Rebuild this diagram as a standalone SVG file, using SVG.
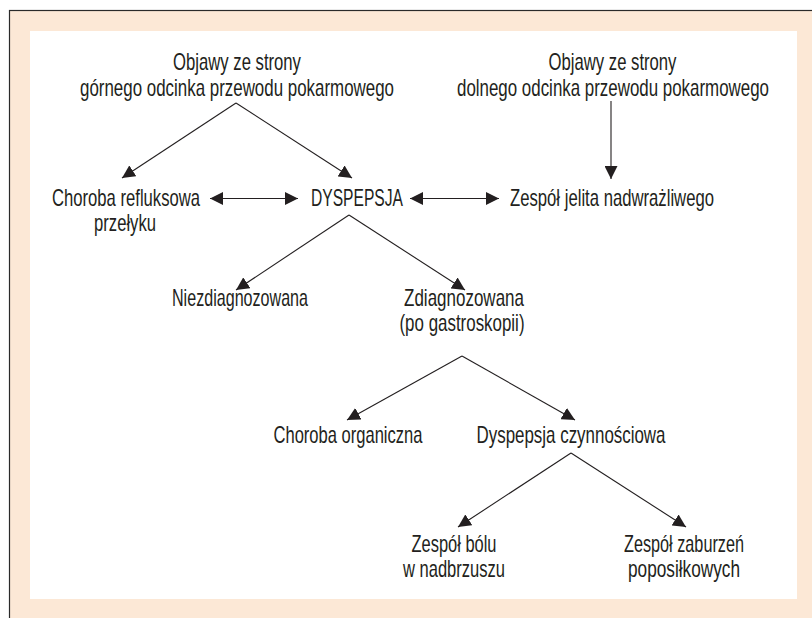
<svg xmlns="http://www.w3.org/2000/svg" width="812" height="618" viewBox="0 0 812 618">
<style>
text{font-family:"Liberation Sans",Arial,sans-serif;font-size:23px;fill:#231f20;text-anchor:middle}
.c line{stroke:#231f20;stroke-width:1.1;fill:none}
</style>
<defs>
<marker id="ah" viewBox="0 0 13 13" refX="13" refY="6.5" markerWidth="13" markerHeight="13" markerUnits="userSpaceOnUse" orient="auto-start-reverse">
<path d="M0,0 L13,6.5 L0,13 z" fill="#231f20"/>
</marker>
</defs>
<rect x="9.5" y="10.5" width="820" height="620" fill="#fce8d6" stroke="#2a2a2a" stroke-width="1.2"/>
<rect x="30" y="31" width="767" height="568" fill="#ffffff"/>
<g class="c" id="connectors">
<line x1="236" y1="103" x2="122" y2="178" marker-end="url(#ah)"/>
<line x1="236" y1="103" x2="352" y2="178" marker-end="url(#ah)"/>
<line x1="611" y1="101" x2="611" y2="179" marker-end="url(#ah)"/>
<line x1="210" y1="198.5" x2="298" y2="198.5" marker-start="url(#ah)" marker-end="url(#ah)"/>
<line x1="410" y1="198.5" x2="499" y2="198.5" marker-start="url(#ah)" marker-end="url(#ah)"/>
<line x1="349" y1="215" x2="236" y2="290" marker-end="url(#ah)"/>
<line x1="349" y1="215" x2="465" y2="290" marker-end="url(#ah)"/>
<line x1="462" y1="356" x2="347" y2="420" marker-end="url(#ah)"/>
<line x1="462" y1="356" x2="575" y2="420" marker-end="url(#ah)"/>
<line x1="571" y1="453" x2="458" y2="527" marker-end="url(#ah)"/>
<line x1="571" y1="453" x2="686" y2="527" marker-end="url(#ah)"/>
</g>
<g id="n-upper">
<text transform="translate(237 70) scale(0.78 1)" textLength="164" lengthAdjust="spacingAndGlyphs">Objawy ze strony</text>
<text transform="translate(237 96) scale(0.78 1)" textLength="402.6" lengthAdjust="spacingAndGlyphs">górnego odcinka przewodu pokarmowego</text>
</g>
<g id="n-lower">
<text transform="translate(612.5 70) scale(0.78 1)" textLength="164" lengthAdjust="spacingAndGlyphs">Objawy ze strony</text>
<text transform="translate(613 96) scale(0.78 1)" textLength="400" lengthAdjust="spacingAndGlyphs">dolnego odcinka przewodu pokarmowego</text>
</g>
<g id="n-gerd">
<text transform="translate(126 206) scale(0.78 1)" textLength="189.7" lengthAdjust="spacingAndGlyphs">Choroba refluksowa</text>
<text transform="translate(125 231) scale(0.78 1)" textLength="79.5" lengthAdjust="spacingAndGlyphs">przełyku</text>
</g>
<g id="n-dyspepsja">
<text transform="translate(357 206) scale(0.78 1)" textLength="118" lengthAdjust="spacingAndGlyphs">DYSPEPSJA</text>
</g>
<g id="n-ibs">
<text transform="translate(612 206) scale(0.78 1)" textLength="261.5" lengthAdjust="spacingAndGlyphs">Zespół jelita nadwrażliwego</text>
</g>
<g id="n-niezdiag">
<text transform="translate(240 306) scale(0.78 1)" textLength="174.4" lengthAdjust="spacingAndGlyphs">Niezdiagnozowana</text>
</g>
<g id="n-zdiag">
<text transform="translate(464 306) scale(0.78 1)" textLength="153.8" lengthAdjust="spacingAndGlyphs">Zdiagnozowana</text>
<text transform="translate(462 331) scale(0.78 1)" textLength="160.3" lengthAdjust="spacingAndGlyphs">(po gastroskopii)</text>
</g>
<g id="n-organiczna">
<text transform="translate(348 443) scale(0.78 1)" textLength="191" lengthAdjust="spacingAndGlyphs">Choroba organiczna</text>
</g>
<g id="n-czynnosciowa">
<text transform="translate(571 443) scale(0.78 1)" textLength="242.3" lengthAdjust="spacingAndGlyphs">Dyspepsja czynnościowa</text>
</g>
<g id="n-bol">
<text transform="translate(454 552) scale(0.78 1)" textLength="109" lengthAdjust="spacingAndGlyphs">Zespół bólu</text>
<text transform="translate(454 577) scale(0.78 1)" textLength="130.8" lengthAdjust="spacingAndGlyphs">w nadbrzuszu</text>
</g>
<g id="n-poposilkowy">
<text transform="translate(684 552) scale(0.78 1)" textLength="153.8" lengthAdjust="spacingAndGlyphs">Zespół zaburzeń</text>
<text transform="translate(684 577) scale(0.78 1)" textLength="143.6" lengthAdjust="spacingAndGlyphs">poposiłkowych</text>
</g>
</svg>
